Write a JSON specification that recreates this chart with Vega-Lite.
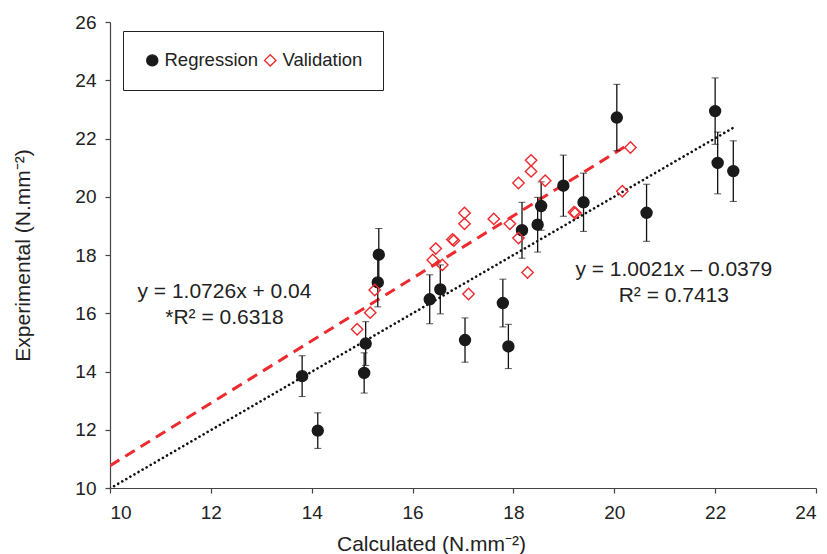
{
  "$schema": "https://vega.github.io/schema/vega-lite/v6.json",
  "width": 706,
  "height": 466,
  "autosize": "none",
  "padding": {"left": 110, "top": 22, "right": 11, "bottom": 66},
  "background": "white",
  "config": {
    "view": {"stroke": null},
    "font": "Liberation Sans",
    "axis": {
      "grid": false,
      "domainColor": "#444",
      "domainWidth": 1.2,
      "tickColor": "#444",
      "tickWidth": 1.2,
      "tickSize": 5,
      "labelFont": "Liberation Sans",
      "labelFontSize": 19,
      "labelColor": "#222",
      "titleFont": "Liberation Sans",
      "titleFontSize": 21,
      "titleFontWeight": "normal",
      "titleColor": "#222"
    },
    "legend": {
      "orient": "none",
      "legendX": 13,
      "legendY": 9,
      "direction": "horizontal",
      "padding": 20,
      "strokeColor": "#222",
      "fillColor": "white",
      "labelFont": "Liberation Sans",
      "labelFontSize": 18.5,
      "labelColor": "#222",
      "labelOffset": 3,
      "columnPadding": 2,
      "symbolStrokeWidth": 1.4,
      "title": null
    }
  },
  "datasets": {
    "pts": [
      {"series": "Regression", "x": 13.81, "y": 13.84, "err": 0.70},
      {"series": "Regression", "x": 14.12, "y": 11.97, "err": 0.61},
      {"series": "Regression", "x": 15.04, "y": 13.95, "err": 0.69},
      {"series": "Regression", "x": 15.07, "y": 14.96, "err": 0.75},
      {"series": "Regression", "x": 15.31, "y": 17.06, "err": 0.84},
      {"series": "Regression", "x": 15.33, "y": 18.01, "err": 0.90},
      {"series": "Regression", "x": 16.34, "y": 16.48, "err": 0.84},
      {"series": "Regression", "x": 16.55, "y": 16.82, "err": 0.84},
      {"series": "Regression", "x": 17.04, "y": 15.08, "err": 0.76},
      {"series": "Regression", "x": 17.79, "y": 16.35, "err": 0.82},
      {"series": "Regression", "x": 17.90, "y": 14.86, "err": 0.76},
      {"series": "Regression", "x": 18.17, "y": 18.85, "err": 0.96},
      {"series": "Regression", "x": 18.48, "y": 19.04, "err": 0.94},
      {"series": "Regression", "x": 18.55, "y": 19.68, "err": 0.83},
      {"series": "Regression", "x": 18.99, "y": 20.38, "err": 1.05},
      {"series": "Regression", "x": 19.39, "y": 19.81, "err": 1.00},
      {"series": "Regression", "x": 20.05, "y": 22.72, "err": 1.14},
      {"series": "Regression", "x": 20.64, "y": 19.45, "err": 0.98},
      {"series": "Regression", "x": 22.00, "y": 22.94, "err": 1.14},
      {"series": "Regression", "x": 22.05, "y": 21.16, "err": 1.06},
      {"series": "Regression", "x": 22.36, "y": 20.88, "err": 1.04},
      {"series": "Validation", "x": 14.90, "y": 15.45},
      {"series": "Validation", "x": 15.16, "y": 16.02},
      {"series": "Validation", "x": 15.25, "y": 16.80},
      {"series": "Validation", "x": 16.40, "y": 17.83},
      {"series": "Validation", "x": 16.46, "y": 18.22},
      {"series": "Validation", "x": 16.59, "y": 17.66},
      {"series": "Validation", "x": 16.79, "y": 18.53},
      {"series": "Validation", "x": 16.82, "y": 18.50},
      {"series": "Validation", "x": 17.03, "y": 19.44},
      {"series": "Validation", "x": 17.03, "y": 19.07},
      {"series": "Validation", "x": 17.11, "y": 16.66},
      {"series": "Validation", "x": 17.61, "y": 19.24},
      {"series": "Validation", "x": 17.93, "y": 19.07},
      {"series": "Validation", "x": 18.10, "y": 18.58},
      {"series": "Validation", "x": 18.10, "y": 20.47},
      {"series": "Validation", "x": 18.28, "y": 17.40},
      {"series": "Validation", "x": 18.35, "y": 21.25},
      {"series": "Validation", "x": 18.35, "y": 20.87},
      {"series": "Validation", "x": 18.63, "y": 20.55},
      {"series": "Validation", "x": 19.20, "y": 19.47},
      {"series": "Validation", "x": 19.23, "y": 19.44},
      {"series": "Validation", "x": 20.16, "y": 20.19},
      {"series": "Validation", "x": 20.32, "y": 21.69}
    ],
    "fits": [
      {"fit": "Regression", "x": 10, "y": 9.983},
      {"fit": "Regression", "x": 22.35, "y": 22.359},
      {"fit": "Validation", "x": 10, "y": 10.766},
      {"fit": "Validation", "x": 20.3, "y": 21.814}
    ]
  },
  "layer": [
    {
      "data": {"name": "fits"},
      "transform": [{"filter": "datum.fit === 'Regression'"}],
      "mark": {"type": "line", "color": "#111", "strokeWidth": 2.6, "strokeDash": [0.1, 4.6], "strokeCap": "round", "clip": true},
      "encoding": {
        "x": {"field": "x", "type": "quantitative", "title": "Calculated (N.mm⁻²)", "scale": {"domain": [10, 24], "nice": false, "zero": false},
              "axis": {"values": [10, 12, 14, 16, 18, 20, 22, 24], "labelPadding": 10, "titleX": 321, "titleY": 62, "titleBaseline": "alphabetic", "titleAnchor": null, "titleAlign": "center"}},
        "y": {"field": "y", "type": "quantitative", "title": "Experimental (N.mm⁻²)", "scale": {"domain": [10, 26], "nice": false, "zero": false},
              "axis": {"values": [10, 12, 14, 16, 18, 20, 22, 24, 26], "labelPadding": 9, "titleX": -81, "titleY": 233, "titleBaseline": "alphabetic", "titleAlign": "center", "titleAngle": -90}}
      }
    },
    {
      "data": {"name": "fits"},
      "transform": [{"filter": "datum.fit === 'Validation'"}],
      "mark": {"type": "line", "color": "#ee2a2f", "strokeWidth": 3, "strokeDash": [11, 7], "clip": true},
      "encoding": {
        "x": {"field": "x", "type": "quantitative", "title": "Calculated (N.mm⁻²)"},
        "y": {"field": "y", "type": "quantitative", "title": "Experimental (N.mm⁻²)"}
      }
    },
    {
      "data": {"name": "pts"},
      "transform": [{"filter": "datum.series === 'Regression'"}],
      "mark": {"type": "errorbar", "ticks": {"size": 7, "color": "#111", "strokeWidth": 1.3}, "rule": {"color": "#111", "strokeWidth": 1.3}},
      "encoding": {
        "x": {"field": "x", "type": "quantitative", "title": "Calculated (N.mm⁻²)"},
        "y": {"field": "y", "type": "quantitative", "title": "Experimental (N.mm⁻²)"},
        "yError": {"field": "err"}
      }
    },
    {
      "data": {"name": "pts"},
      "mark": {"type": "point", "strokeWidth": 1.4, "opacity": 1},
      "encoding": {
        "x": {"field": "x", "type": "quantitative", "title": "Calculated (N.mm⁻²)"},
        "y": {"field": "y", "type": "quantitative", "title": "Experimental (N.mm⁻²)"},
        "shape": {"field": "series", "type": "nominal", "scale": {"domain": ["Regression", "Validation"], "range": ["circle", "diamond"]}},
        "fill": {"field": "series", "type": "nominal", "scale": {"domain": ["Regression", "Validation"], "range": ["#1a1a1a", "transparent"]}},
        "stroke": {"field": "series", "type": "nominal", "scale": {"domain": ["Regression", "Validation"], "range": ["#1a1a1a", "#ee2a2f"]}},
        "size": {"field": "series", "type": "nominal", "scale": {"domain": ["Regression", "Validation"], "range": [121, 130]}}
      }
    },
    {
      "data": {"values": [{}]},
      "mark": {"type": "text", "fontSize": 21, "font": "Liberation Sans", "color": "#222", "align": "center", "baseline": "middle", "lineHeight": 26},
      "encoding": {
        "x": {"datum": 12.27},
        "y": {"datum": 16.72},
        "text": {"value": ["y = 1.0726x + 0.04", "*R² = 0.6318"]}
      }
    },
    {
      "data": {"values": [{}]},
      "mark": {"type": "text", "fontSize": 21, "font": "Liberation Sans", "color": "#222", "align": "center", "baseline": "middle", "lineHeight": 26},
      "encoding": {
        "x": {"datum": 21.18},
        "y": {"datum": 17.47},
        "text": {"value": ["y = 1.0021x – 0.0379", "R² = 0.7413"]}
      }
    }
  ]
}
